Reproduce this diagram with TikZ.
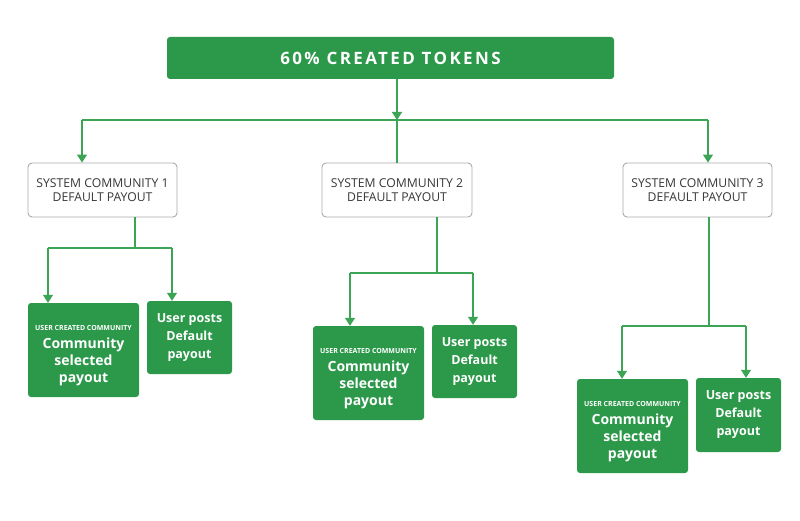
\documentclass[tikz,border=0pt]{standalone}
\usepackage{fontspec}
\setmainfont{Open Sans}
\newfontfamily\titlefont[LetterSpace=14]{Open Sans}
\usetikzlibrary{arrows.meta}
\definecolor{gr}{RGB}{44,152,74}
\definecolor{grline}{RGB}{60,165,85}
\definecolor{txtgray}{RGB}{55,55,55}
\definecolor{bordergray}{RGB}{170,170,170}
\newcommand{\capfont}{\bfseries\fontsize{7}{9}\selectfont}
\newcommand{\bigfont}{\bfseries\fontsize{14}{17}\selectfont}
\newcommand{\mycommtext}{\capfont\rule{0pt}{17pt}USER CREATED COMMUNITY\\[1pt]\bigfont Community\\\bigfont selected\\\bigfont payout}
\begin{document}
\begin{tikzpicture}[x=1pt,y=-1pt,
  greenbox/.style={fill=gr,draw=none,rounded corners=3pt,text=white,align=center,inner sep=0pt},
  sysbox/.style={draw=bordergray,line width=0.9pt,fill=white,rounded corners=4pt,text=txtgray,align=center,inner sep=0pt,minimum width=149pt,minimum height=54pt,font=\fontsize{12.2}{14}\selectfont},
  commbox/.style={greenbox,minimum width=111pt,minimum height=94pt,font=\bigfont},
  upbox/.style={greenbox,minimum width=85pt,minimum height=73pt,font=\fontsize{12.5}{18}\selectfont\bfseries},
  conn/.style={draw=grline,line width=1.2pt},
  arr/.style={conn,-{Triangle[width=10pt,length=8pt]}}
]
\useasboundingbox (0,0) rectangle (800,521);
\fill[white] (0,0) rectangle (800,521);

\node[greenbox,minimum width=447pt,minimum height=42pt,font=\fontsize{17}{19}\selectfont\bfseries] (top) at (390.5,58) {\titlefont 60\% CREATED TOKENS};

\node[sysbox] (s1) at (102.5,190) {SYSTEM COMMUNITY 1\\DEFAULT PAYOUT};
\node[sysbox,minimum width=150pt] (s2) at (397,190) {SYSTEM COMMUNITY 2\\DEFAULT PAYOUT};
\node[sysbox] (s3) at (697.5,190) {SYSTEM COMMUNITY 3\\DEFAULT PAYOUT};

\node[commbox] (c1) at (83.5,350) {\mycommtext};
\node[upbox] (u1) at (189.5,337.5) {User posts\\Default\\payout};
\node[commbox] (c2) at (368.5,373) {\mycommtext};
\node[upbox] (u2) at (474.5,361.5) {User posts\\Default\\payout};
\node[commbox] (c3) at (632.5,426) {\mycommtext};
\node[upbox,minimum height=74pt] (u3) at (738.5,415) {User posts\\Default\\payout};

% top distribution
\coordinate (j0) at (397,120);
\coordinate (jL) at (82,120);
\coordinate (jR) at (708,120);
\draw[arr] (top.south -| j0) -- (j0);
\draw[conn] (jL) -- (jR);
\draw[conn] (j0) -- (s2.north -| j0);
\draw[arr] (jL) -- (s1.north -| jL);
\draw[arr] (jR) -- (s3.north -| jR);

% system 1
\coordinate (b1) at (135,248);
\coordinate (b1l) at (48,248);
\coordinate (b1r) at (172,248);
\draw[conn] (s1.south -| b1) -- (b1);
\draw[conn] (b1l) -- (b1r);
\draw[arr] (b1l) -- (c1.north -| b1l);
\draw[arr] (b1r) -- (u1.north -| b1r);

% system 2
\coordinate (b2) at (437,273);
\coordinate (b2l) at (350,273);
\coordinate (b2r) at (473,273);
\draw[conn] (s2.south -| b2) -- (b2);
\draw[conn] (b2l) -- (b2r);
\draw[arr] (b2l) -- (c2.north -| b2l);
\draw[arr] (b2r) -- (u2.north -| b2r);

% system 3
\coordinate (b3) at (709,326);
\coordinate (b3l) at (622,326);
\coordinate (b3r) at (746,326);
\draw[conn] (s3.south -| b3) -- (b3);
\draw[conn] (b3l) -- (b3r);
\draw[arr] (b3l) -- (c3.north -| b3l);
\draw[arr] (b3r) -- (u3.north -| b3r);
\end{tikzpicture}
\end{document}
